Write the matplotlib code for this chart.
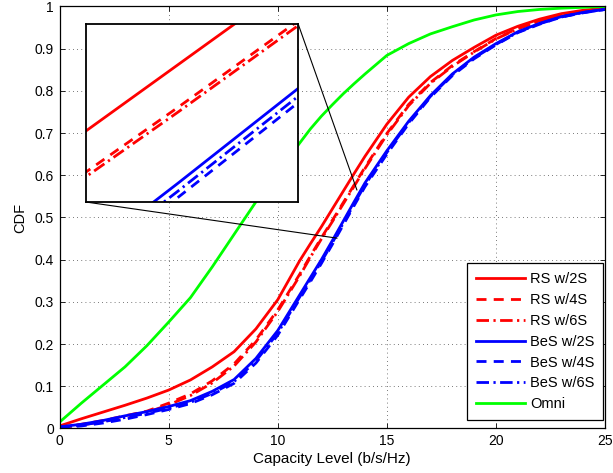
import matplotlib
matplotlib.use("Agg")
import matplotlib.pyplot as plt
from matplotlib.patches import ConnectionPatch

plt.rcParams['font.family'] = ['Liberation Sans', 'DejaVu Sans']
plt.rcParams['font.size'] = 10

# Capacity grid (b/s/Hz) shared by all CDF curves
capacity = [0, 1, 2, 3, 4, 5, 6, 7, 8, 9, 10, 11, 11.5, 12, 12.5, 13, 13.5,
            14, 15, 16, 17, 18, 19, 20, 21, 22, 23, 24, 25]

rs_2s = [0.006, 0.023, 0.039, 0.055, 0.072, 0.091, 0.115, 0.146, 0.182, 0.236,
         0.305, 0.397, 0.438, 0.478, 0.520, 0.562, 0.604, 0.645, 0.721, 0.785,
         0.834, 0.872, 0.903, 0.932, 0.953, 0.970, 0.983, 0.991, 0.996]
rs_4s = [0.003, 0.010, 0.019, 0.030, 0.041, 0.060, 0.082, 0.113, 0.153, 0.210,
         0.281, 0.365, 0.409, 0.452, 0.493, 0.535, 0.577, 0.619, 0.699, 0.768,
         0.820, 0.860, 0.893, 0.924, 0.948, 0.966, 0.980, 0.989, 0.995]
rs_6s = [0.002, 0.008, 0.017, 0.027, 0.038, 0.056, 0.078, 0.108, 0.148, 0.205,
         0.277, 0.361, 0.406, 0.449, 0.490, 0.532, 0.574, 0.616, 0.696, 0.765,
         0.818, 0.858, 0.892, 0.923, 0.947, 0.965, 0.980, 0.989, 0.995]
bes_2s = [0.004, 0.010, 0.019, 0.030, 0.040, 0.052, 0.066, 0.088, 0.116, 0.166,
          0.232, 0.316, 0.358, 0.400, 0.445, 0.491, 0.537, 0.582, 0.658, 0.728,
          0.789, 0.840, 0.880, 0.912, 0.940, 0.960, 0.976, 0.986, 0.993]
bes_4s = [0.002, 0.006, 0.013, 0.022, 0.033, 0.045, 0.059, 0.080, 0.107, 0.155,
          0.221, 0.306, 0.348, 0.391, 0.436, 0.482, 0.528, 0.573, 0.650, 0.722,
          0.785, 0.836, 0.876, 0.909, 0.938, 0.958, 0.975, 0.985, 0.993]
bes_6s = [0.003, 0.008, 0.016, 0.026, 0.036, 0.048, 0.062, 0.083, 0.111, 0.160,
          0.226, 0.311, 0.353, 0.395, 0.440, 0.486, 0.532, 0.577, 0.654, 0.725,
          0.787, 0.838, 0.878, 0.910, 0.939, 0.959, 0.975, 0.986, 0.993]
omni = [0.015, 0.060, 0.103, 0.146, 0.196, 0.252, 0.310, 0.383, 0.460, 0.537,
        0.607, 0.676, 0.710, 0.740, 0.767, 0.793, 0.817, 0.840, 0.884, 0.912,
        0.935, 0.952, 0.968, 0.980, 0.988, 0.993, 0.996, 0.998, 1.000]

labels = ['RS w/2S', 'RS w/4S', 'RS w/6S', 'BeS w/2S', 'BeS w/4S', 'BeS w/6S', 'Omni']
series = [rs_2s, rs_4s, rs_6s, bes_2s, bes_4s, bes_6s, omni]

dash = (0, (3.6, 2.6))
dashdot = (0, (4.5, 1.6, 0.8, 1.6))
styles = [('#ff0000', '-'), ('#ff0000', dash), ('#ff0000', dashdot),
          ('#0000ff', '-'), ('#0000ff', dash), ('#0000ff', dashdot),
          ('#00ff00', '-')]

# zoomed window and the points on the main curves it is tied to
zoom_x = (12.0, 13.15)
zoom_y = (0.433, 0.546)
anchor_upper = (13.63, 0.565)
anchor_lower = (12.72, 0.451)

fig = plt.figure(figsize=(6.13, 4.73), dpi=100)
ax = fig.add_axes([0.0971, 0.0941, 0.8899, 0.8922])

for y, lab, (c, ls) in zip(series, labels, styles):
    ax.plot(capacity, y, color=c, linestyle=ls, linewidth=2, label=lab)

ax.set_xlim(0, 25)
ax.set_ylim(0, 1)
ax.set_xticks([0, 5, 10, 15, 20, 25])
ax.set_yticks([i / 10 for i in range(11)])
ax.set_yticklabels(['0', '0.1', '0.2', '0.3', '0.4', '0.5', '0.6', '0.7',
                    '0.8', '0.9', '1'])
ax.tick_params(direction='in', length=3.5, width=0.6, top=True, right=True,
               labelsize=10, pad=4)
ax.grid(True, color='0.3', linestyle=(0, (1, 4)), linewidth=0.6)
for s in ax.spines.values():
    s.set_linewidth(0.9)
ax.set_xlabel('Capacity Level (b/s/Hz)', fontsize=11, labelpad=3)
ax.set_ylabel('CDF', fontsize=10.5, labelpad=5)

leg = ax.legend(loc='lower right', bbox_to_anchor=(0.997, 0.02),
                borderaxespad=0, fancybox=False, framealpha=1,
                edgecolor='black', fontsize=10.5, handlelength=3.4,
                labelspacing=0.47, handletextpad=0.35, borderpad=0.6)
leg.get_frame().set_linewidth(0.9)

# magnified view of the median region
axin = fig.add_axes([0.1403, 0.5729, 0.3458, 0.3774])
for y, (c, ls) in zip(series, styles):
    axin.plot(capacity, y, color=c, linestyle=ls, linewidth=2)
axin.set_xlim(*zoom_x)
axin.set_ylim(*zoom_y)
axin.set_xticks([])
axin.set_yticks([])
axin.set_facecolor('white')
for s in axin.spines.values():
    s.set_linewidth(1.3)

for corner, target in (((1, 1), anchor_upper), ((0, 0), anchor_lower)):
    con = ConnectionPatch(xyA=corner, coordsA=axin.transAxes,
                          xyB=target, coordsB=ax.transData,
                          color='black', linewidth=0.8)
    fig.add_artist(con)

fig.savefig('out.png', dpi=100)
